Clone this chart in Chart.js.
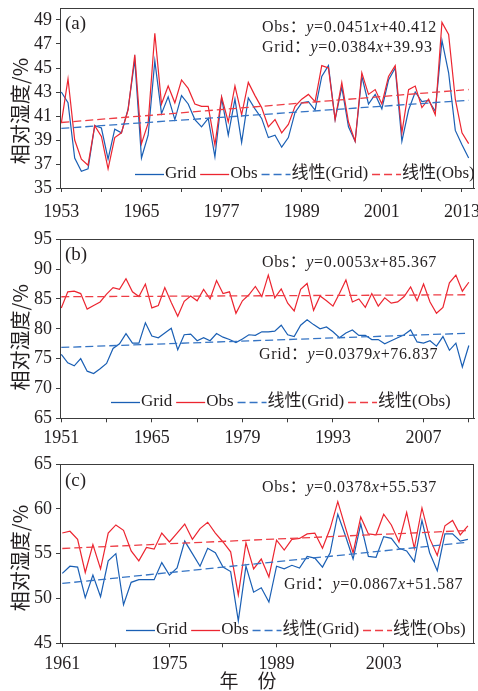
<!DOCTYPE html>
<html><head><meta charset="utf-8">
<script src="https://cdn.jsdelivr.net/npm/chart.js@4.4.0/dist/chart.umd.min.js"></script>
<style>
html,body{margin:0;padding:0;background:#fff;}
#wrap{position:relative;width:478px;height:691px;overflow:hidden;background:#fff;}
canvas{position:absolute;left:0;}
</style></head><body>
<div id="wrap">
<canvas id="ca" style="top:0px" width="478" height="229"></canvas>
<canvas id="cb" style="top:229px" width="478" height="221"></canvas>
<canvas id="cc" style="top:450px" width="478" height="241"></canvas>
</div>
<script>
// ---------- text ----------
const seriesNames = ['Grid', 'Obs', '线性(Grid)', '线性(Obs)'];
const panelLabels = ['(a)', '(b)', '(c)'];
const yAxisTitle = '相对湿度/%';
const xAxisTitle = '年　份';

// ---------- panel (a) ----------
const startYearA = 1953;
const gridA = [43.0,42.1,37.5,36.4,36.6,40.2,40.0,37.4,39.9,39.6,41.6,45.7,37.5,39.4,45.6,41.2,42.6,40.7,42.7,42.0,40.7,40.1,40.8,37.6,42.5,39.4,42.4,38.8,42.5,41.6,40.8,
               39.2,39.4,38.4,39.2,41.3,42.1,42.2,41.5,44.3,45.2,40.7,43.4,40.1,38.9,44.3,42.0,42.8,41.6,44.0,45.0,38.9,41.5,43.0,42.2,42.3,41.4,47.3,44.6,39.8,38.6,37.5];
const obsA  = [40.4,44.1,39.0,37.4,36.9,40.2,39.3,36.6,39.2,39.6,41.5,46.1,38.7,40.4,47.9,42.0,43.5,42.1,44.0,43.3,42.0,41.8,41.8,38.6,42.6,40.5,43.5,41.1,43.8,42.7,41.7,
               40.1,40.7,39.6,40.3,41.8,42.4,42.8,42.2,45.2,45.0,40.7,43.8,40.5,38.9,44.6,42.8,43.2,42.0,44.3,45.2,39.6,43.2,43.5,41.7,42.4,41.1,48.8,47.8,42.4,39.6,38.7];
const trendObsA  = [0.0451, 40.412];   // slope, intercept
const trendGridA = [0.0384, 39.93];
const xTicksA  = [1953,1959,1965,1971,1977,1983,1989,1995,2001,2007,2013];
const xLabelsA = [1953,1965,1977,1989,2001,2013];
const yTicksA  = [35,37,39,41,43,45,47,49];

// ---------- panel (b) ----------
const startYearB = 1951;
const gridB = [75.7,74.3,73.8,75.0,72.9,72.5,73.3,74.2,76.7,77.5,79.2,77.6,77.6,81.0,78.8,78.5,79.3,80.1,76.5,79.0,79.1,78.0,78.5,78.0,79.2,78.6,78.2,77.7,78.3,79.0,78.9,79.5,
               79.5,79.6,80.6,79.0,78.7,80.6,81.5,80.7,80.0,80.3,79.5,78.5,79.3,79.8,78.9,78.9,78.2,78.2,77.5,78.0,78.5,79.0,79.8,77.8,77.6,78.0,77.1,78.7,76.4,77.6,73.6,77.2];
const obsB  = [83.5,86.2,86.3,85.9,83.3,83.9,84.5,85.8,86.9,86.6,88.4,86.2,85.4,87.5,83.5,83.9,86.9,84.4,82.1,84.6,85.5,84.7,86.6,85.0,88.1,85.9,86.2,82.6,84.7,85.7,87.1,85.4,
               89.0,85.2,86.7,84.3,83.0,86.6,87.6,83.1,85.5,84.7,83.8,85.9,88.2,84.5,85.0,83.6,85.9,83.8,85.2,84.3,84.5,85.4,87.0,84.7,87.5,84.5,82.6,83.6,87.7,89.0,86.3,87.8];
const trendObsB  = [0.0053, 85.367];
const trendGridB = [0.0379, 76.837];
const xTicksB  = [1951,1958,1965,1972,1979,1986,1993,2000,2007,2014];
const xLabelsB = [1951,1965,1979,1993,2007];
const yTicksB  = [65,70,75,80,85,90,95];

// ---------- panel (c) ----------
const startYearC = 1961;
const gridC = [52.8,53.6,53.5,50.1,52.6,50.2,54.2,55.0,49.3,51.8,52.1,52.1,52.1,54.0,52.6,53.4,56.4,55.0,53.6,55.6,55.1,53.5,53.0,47.5,53.6,50.7,51.2,
               49.6,53.6,53.3,53.7,53.4,54.7,54.5,53.5,55.1,59.4,57.0,54.4,58.3,54.7,54.6,56.9,56.7,55.6,55.3,54.1,58.7,55.1,53.1,57.2,57.2,56.4,56.6];
const obsC  = [57.3,57.5,56.6,52.9,56.0,53.3,57.3,58.2,57.6,55.3,54.2,55.7,55.5,57.3,56.3,57.3,58.3,56.6,57.8,58.5,57.3,56.3,55.2,50.4,56.2,53.3,54.4,
               52.4,56.5,55.4,56.6,56.7,57.2,57.3,55.6,57.8,60.8,57.9,55.1,59.1,57.2,57.1,59.4,58.2,56.3,59.6,55.6,60.1,56.7,54.8,58.1,58.7,57.1,58.1];
const trendObsC  = [0.0378, 55.537];
const trendGridC = [0.0867, 51.587];
const xTicksC  = [1961,1968,1975,1982,1989,1996,2003,2010];
const xLabelsC = [1961,1975,1989,2003];
const yTicksC  = [45,50,55,60,65];

// ---------- styles ----------
const BLUE = '#1a5fb4', RED = '#ec2530', BLUE_T = '#3574c4', RED_T = '#ee3d45';
const TXT = '#231f20', AXIS = '#3c3c3c';
const SERIF = "'Liberation Serif','Noto Sans CJK SC',serif";
const CJK = "'Noto Sans CJK SC','Liberation Serif',sans-serif";

function eqSegs(name, c) {
  return [[name + '：', false], ['y', true], ['=' + c[0], false], ['x', true], ['+' + c[1], false]];
}
function drawRich(ctx, segs, x, y, size, spacing) {
  let cx = x;
  ctx.textBaseline = 'middle'; ctx.textAlign = 'left'; ctx.fillStyle = TXT;
  for (const [t, it] of segs) {
    ctx.font = (it ? 'italic ' : '') + size + 'px ' + SERIF;
    ctx.letterSpacing = spacing + 'px';
    ctx.fillText(t, cx, y);
    cx += ctx.measureText(t).width;
  }
  ctx.letterSpacing = '0px';
}
function richWidth(ctx, segs, size) {
  let w = 0, n = 0;
  ctx.letterSpacing = '0px';
  for (const [t, it] of segs) {
    ctx.font = (it ? 'italic ' : '') + size + 'px ' + SERIF;
    w += ctx.measureText(t).width; n += [...t].length;
  }
  return {w, n};
}

function makePanel(canvasId, p) {
  const n = p.grid.length;
  const years = Array.from({length: n}, (_, i) => p.startYear + i);
  const toPts = arr => arr.map((v, i) => ({x: years[i], y: v}));
  const trendPts = c => [{x: years[0], y: c[1] + c[0] * 1}, {x: years[n - 1], y: c[1] + c[0] * n}];
  const canvas = document.getElementById(canvasId);
  const H = canvas.height;

  const deco = {
    id: 'deco' + canvasId,
    afterDraw(chart) {
      const ctx = chart.ctx;
      const a = chart.chartArea;
      ctx.save();
      // frame
      ctx.strokeStyle = AXIS; ctx.lineWidth = 1;
      ctx.strokeRect(Math.round(a.left) + 0.5, Math.round(a.top) + 0.5, Math.round(a.right - a.left) - 1, Math.round(a.bottom - a.top));
      // y axis title (rotated)
      ctx.save();
      ctx.translate(20, a.top + p.yTitleOff);
      ctx.rotate(-Math.PI / 2);
      ctx.fillStyle = TXT; ctx.font = '20px ' + CJK; ctx.textAlign = 'center'; ctx.textBaseline = 'middle';
      ctx.fillText(yAxisTitle, 0, 0);
      ctx.restore();
      // panel label
      ctx.fillStyle = TXT; ctx.font = '19px ' + SERIF; ctx.textBaseline = 'middle'; ctx.textAlign = 'left';
      ctx.fillText(p.label, a.left + 5, p.labelY);
      // equations
      const so = eqSegs(seriesNames[1], p.trendObs), sg = eqSegs(seriesNames[0], p.trendGrid);
      const m = richWidth(ctx, so, 16);
      const sp = (175 - m.w) / m.n;
      drawRich(ctx, so, p.eqObs[0], p.eqObs[1], 16, sp);
      drawRich(ctx, sg, p.eqGrid[0], p.eqGrid[1], 16, sp);
      // legend
      const ds = chart.data.datasets;
      let x = p.legend[0]; const y = p.legend[1];
      ctx.font = '17px ' + SERIF; ctx.textAlign = 'left';
      for (let i = 0; i < ds.length; i++) {
        ctx.strokeStyle = ds[i].borderColor; ctx.lineWidth = 1.3;
        ctx.setLineDash(ds[i].borderDash || []);
        ctx.beginPath(); ctx.moveTo(x, y + 0.5); ctx.lineTo(x + 29, y + 0.5); ctx.stroke();
        ctx.setLineDash([]);
        x += 30;
        ctx.fillStyle = TXT; ctx.fillText(ds[i].label, x, y);
        x += ctx.measureText(ds[i].label).width + 4;
      }
      // bottom axis title
      if (p.xTitle) {
        ctx.font = '19px ' + CJK; ctx.textAlign = 'center';
        ctx.fillText(xAxisTitle, 248, H - 10);
      }
      ctx.restore();
    }
  };

  const gridOpts = {drawOnChartArea: false, drawTicks: true, tickLength: 4, color: AXIS, lineWidth: 1};
  return new Chart(canvas, {
    type: 'line',
    data: {datasets: [
      {label: seriesNames[0], data: toPts(p.grid), borderColor: BLUE, borderWidth: 1.2, pointRadius: 0, tension: 0, order: 3},
      {label: seriesNames[1], data: toPts(p.obs), borderColor: RED, borderWidth: 1.2, pointRadius: 0, tension: 0, order: 2},
      {label: seriesNames[2], data: trendPts(p.trendGrid), borderColor: BLUE_T, borderWidth: 1.3, borderDash: [8, 4], pointRadius: 0, order: 1},
      {label: seriesNames[3], data: trendPts(p.trendObs), borderColor: RED_T, borderWidth: 1.3, borderDash: [8, 4], pointRadius: 0, order: 0}
    ]},
    options: {
      responsive: false, animation: false, devicePixelRatio: 1,
      layout: {padding: {top: p.plotTop, right: 4, left: 0, bottom: 0}},
      plugins: {legend: {display: false}, tooltip: {enabled: false}},
      scales: {
        x: {
          type: 'linear', min: p.xMin, max: p.xMax,
          afterBuildTicks: s => { s.ticks = p.xTicks.map(v => ({value: v})); },
          afterFit: s => { s.height = H - p.plotBottom; s.paddingLeft = 0; s.paddingRight = 0; },
          ticks: {autoSkip: false, maxRotation: 0, padding: p.xPad, color: TXT, font: {family: SERIF, size: 18},
                  callback: v => p.xLabels.includes(v) ? String(v) : ''},
          grid: gridOpts,
          border: {display: true, color: AXIS, width: 1}
        },
        y: {
          min: p.yMin, max: p.yMax,
          afterBuildTicks: s => { s.ticks = p.yTicks.map(v => ({value: v})); },
          afterFit: s => { s.width = 60; s.paddingTop = 0; s.paddingBottom = 0; },
          ticks: {padding: 4, color: TXT, font: {family: SERIF, size: 18}},
          grid: gridOpts,
          border: {display: true, color: AXIS, width: 1}
        }
      }
    },
    plugins: [deco]
  });
}

makePanel('ca', {startYear: startYearA, grid: gridA, obs: obsA, trendObs: trendObsA, trendGrid: trendGridA,
  xTicks: xTicksA, xLabels: xLabelsA, yTicks: yTicksA, xMin: 1952.8, xMax: 2014.8, yMin: 35, yMax: 50,
  plotTop: 8, plotBottom: 188, xPad: 9, yTitleOff: 103, label: panelLabels[0], labelY: 24,
  eqObs: [262, 28], eqGrid: [262, 48], legend: [135, 174]});
makePanel('cb', {startYear: startYearB, grid: gridB, obs: obsB, trendObs: trendObsB, trendGrid: trendGridB,
  xTicks: xTicksB, xLabels: xLabelsB, yTicks: yTicksB, xMin: 1950.8, xMax: 2014.8, yMin: 65, yMax: 95,
  plotTop: 10.3, plotBottom: 189.3, xPad: 5, yTitleOff: 98, label: panelLabels[1], labelY: 26,
  eqObs: [262, 34], eqGrid: [259, 126], legend: [111, 173]});
makePanel('cc', {startYear: startYearC, grid: gridC, obs: obsC, trendObs: trendObsC, trendGrid: trendGridC,
  xTicks: xTicksC, xLabels: xLabelsC, yTicks: yTicksC, xMin: 1960.7, xMax: 2014.8, yMin: 45, yMax: 65,
  plotTop: 14, plotBottom: 193.3, xPad: 6, yTitleOff: 94, label: panelLabels[2], labelY: 31,
  eqObs: [262, 38], eqGrid: [284, 135], legend: [126, 180], xTitle: true});
</script>
</body></html>
